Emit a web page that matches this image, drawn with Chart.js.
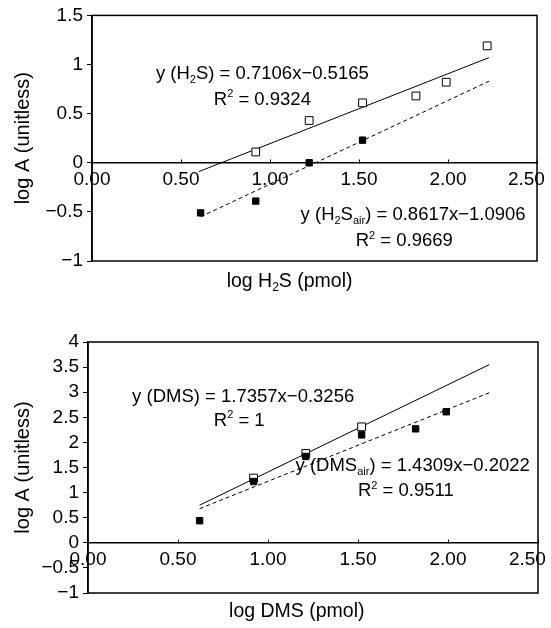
<!DOCTYPE html>
<html>
<head>
<meta charset="utf-8">
<script src="https://cdn.jsdelivr.net/npm/chart.js@4.4.0/dist/chart.umd.min.js"></script>
<style>
  html, body { margin: 0; padding: 0; background: #fff; }
  .box { position: absolute; left: 0; width: 551px; }
  #top { top: 0; height: 300px; }
  #bottom { top: 300px; height: 328px; }
</style>
</head>
<body>
<div class="box" id="top"><canvas id="c1"></canvas></div>
<div class="box" id="bottom"><canvas id="c2"></canvas></div>
<script>
// ---- values ----
// H2S panel
const h2sX = [0.92, 1.22, 1.52, 1.82, 1.99, 2.22];
const h2sY = [0.11, 0.43, 0.61, 0.68, 0.82, 1.19];
const h2sAirX = [0.61, 0.92, 1.22, 1.52];
const h2sAirY = [-0.51, -0.39, 0.0, 0.23];
const h2sFitX = [0.60, 2.23];
const h2sFitY = [-0.09, 1.07];
const h2sAirFitX = [0.61, 2.23];
const h2sAirFitY = [-0.55, 0.83];

// DMS panel
const dmsX = [0.92, 1.21, 1.52];
const dmsY = [1.29, 1.78, 2.31];
const dmsAirX = [0.62, 0.92, 1.21, 1.52, 1.82, 1.99];
const dmsAirY = [0.44, 1.22, 1.72, 2.15, 2.27, 2.61];
const dmsFitX = [0.62, 2.23];
const dmsFitY = [0.75, 3.55];
const dmsAirFitX = [0.62, 2.23];
const dmsAirFitY = [0.68, 2.99];

const xTickLabels = ['0.00', '0.50', '1.00', '1.50', '2.00', '2.50'];

const FAM = '"Liberation Sans", Arial, Helvetica, sans-serif';
const MINUS = '\u2212';

function pts(xs, ys) {
    return xs.map((v, i) => ({ x: v, y: ys[i] }));
}

// text with sub / superscripts, centred on (cx, cy)
function drawRich(ctx, parts, cx, cy, size) {
    const small = Math.round(size * 0.62);
    let w = 0;
    for (const p of parts) {
        ctx.font = (p[1] ? small : size) + 'px ' + FAM;
        w += ctx.measureText(p[0]).width;
    }
    let x = cx - w / 2;
    const base = cy + size * 0.35;
    ctx.textAlign = 'left';
    ctx.textBaseline = 'alphabetic';
    for (const p of parts) {
        ctx.font = (p[1] ? small : size) + 'px ' + FAM;
        let dy = 0;
        if (p[1] === 'sub') dy = size * 0.22;
        if (p[1] === 'sup') dy = -size * 0.4;
        ctx.fillText(p[0], x, base + dy);
        x += ctx.measureText(p[0]).width;
    }
}

const notesPlugin = {
    id: 'notes',
    afterDraw(chart, args, opts) {
        const { ctx, chartArea: a } = chart;
        const sx = chart.scales.x, sy = chart.scales.y;
        ctx.save();
        ctx.strokeStyle = '#000';
        ctx.lineWidth = 1.5;
        ctx.strokeRect(a.left, a.top, a.right - a.left, a.bottom - a.top);
        ctx.fillStyle = '#000';
        for (const n of opts.items) {
            drawRich(ctx, n.parts, sx.getPixelForValue(n.x), sy.getPixelForValue(n.y), 18.5);
        }
        drawRich(ctx, opts.title, sx.getPixelForValue(opts.titleX), a.bottom + opts.titleGap, 19.5);
        ctx.restore();
    }
};

function makeChart(id, cfg) {
    const lineSet = (d, dash) => ({
        data: d, showLine: true, pointRadius: 0, borderColor: '#000',
        borderWidth: 1, borderDash: dash, fill: false, order: 3
    });
    return new Chart(document.getElementById(id), {
        type: 'scatter',
        data: {
            datasets: [
                lineSet(cfg.fit, []),
                lineSet(cfg.airFit, [4, 3]),
                { data: cfg.open, pointStyle: 'rect', pointRadius: 5.5, backgroundColor: '#fff',
                  borderColor: '#000', borderWidth: 1, order: 1 },
                { data: cfg.filled, pointStyle: 'rect', pointRadius: 4.5, backgroundColor: '#000',
                  borderColor: '#000', borderWidth: 1, order: 0 }
            ]
        },
        options: {
            responsive: true,
            maintainAspectRatio: false,
            animation: false,
            layout: { padding: cfg.pad },
            plugins: {
                legend: { display: false },
                tooltip: { enabled: false },
                notes: { items: cfg.notes, title: cfg.xTitle, titleX: cfg.xTitleX, titleGap: cfg.xTitleGap }
            },
            scales: {
                x: {
                    type: 'linear',
                    position: { y: 0 },
                    min: 0, max: 2.5,
                    afterFit: s => { s.height = 0; s.paddingLeft = 0; s.paddingRight = 0; },
                    grid: { drawOnChartArea: false, drawTicks: true, tickLength: -4, color: '#000', lineWidth: 1 },
                    border: { display: true, color: '#000', width: 1.5 },
                    ticks: {
                        stepSize: 0.5, color: '#000', padding: 10, maxRotation: 0, autoSkip: false,
                        font: { size: 19, family: FAM },
                        // last label sits a little left of its tick, as in the figure
                        callback: (v, i, t) => xTickLabels[i] + (i === t.length - 1 ? '    ' : '')
                    }
                },
                y: {
                    type: 'linear',
                    position: 'left',
                    min: cfg.yMin, max: cfg.yMax,
                    afterFit: s => { s.width = cfg.yWidth; },
                    grid: { drawOnChartArea: false, drawTicks: true, tickLength: 5, color: '#000', lineWidth: 1 },
                    border: { display: true, color: '#000', width: 1.5 },
                    ticks: {
                        stepSize: 0.5, color: '#000', padding: 4, autoSkip: false,
                        font: { size: 19, family: FAM },
                        callback: v => String(v).replace('-', MINUS)
                    },
                    title: {
                        display: true, text: 'log A (unitless)', color: '#000',
                        font: { size: 20, family: FAM }, padding: { top: 11, bottom: 0 }
                    }
                }
            }
        },
        plugins: [notesPlugin]
    });
}

makeChart('c1', {
    fit: pts(h2sFitX, h2sFitY),
    airFit: pts(h2sAirFitX, h2sAirFitY),
    open: pts(h2sX, h2sY),
    filled: pts(h2sAirX, h2sAirY),
    yMin: -1, yMax: 1.5, yWidth: 92,
    pad: { left: 0, top: 15, right: 14, bottom: 39 },
    xTitle: [['log H'], ['2', 'sub'], ['S (pmol)']],
    xTitleX: 1.11, xTitleGap: 19,
    notes: [
        { x: 0.957, y: 0.92, parts: [['y (H'], ['2', 'sub'], ['S) = 0.7106x' + MINUS + '0.5165']] },
        { x: 0.957, y: 0.656, parts: [['R'], ['2', 'sup'], [' = 0.9324']] },
        { x: 1.804, y: -0.512, parts: [['y (H'], ['2', 'sub'], ['S'], ['air', 'sub'], [') = 0.8617x' + MINUS + '1.0906']] },
        { x: 1.754, y: -0.786, parts: [['R'], ['2', 'sup'], [' = 0.9669']] }
    ]
});

makeChart('c2', {
    fit: pts(dmsFitX, dmsFitY),
    airFit: pts(dmsAirFitX, dmsAirFitY),
    open: pts(dmsX, dmsY),
    filled: pts(dmsAirX, dmsAirY),
    yMin: -1, yMax: 4, yWidth: 88,
    pad: { left: 0, top: 42, right: 13, bottom: 35 },
    xTitle: [['log DMS (pmol)']],
    xTitleX: 1.16, xTitleGap: 17,
    notes: [
        { x: 0.862, y: 2.94, parts: [['y (DMS) = 1.7357x' + MINUS + '0.3256']] },
        { x: 0.84, y: 2.46, parts: [['R'], ['2', 'sup'], [' = 1']] },
        { x: 1.804, y: 1.56, parts: [['y (DMS'], ['air', 'sub'], [') = 1.4309x' + MINUS + '0.2022']] },
        { x: 1.766, y: 1.06, parts: [['R'], ['2', 'sup'], [' = 0.9511']] }
    ]
});
</script>
</body>
</html>
